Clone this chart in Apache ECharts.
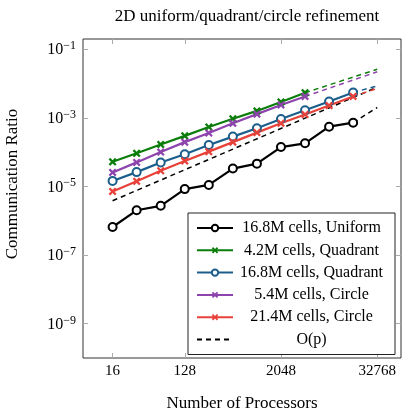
<!DOCTYPE html>
<html>
<head>
<meta charset="utf-8">
<script src="https://cdn.jsdelivr.net/npm/echarts@6/dist/echarts.min.js"></script>
<style>
html,body{margin:0;padding:0;background:#fff}
#chart{width:402px;height:417px}
</style>
</head>
<body>
<div id="chart"></div>
<script>
// processor counts (x) and communication ratios (y)
var procs = [16, 32, 64, 128, 256, 512, 1024, 2048, 4096, 8192, 16384];
var procsShort = [16, 32, 64, 128, 256, 512, 1024, 2048, 4096];

var uniform168 = [6.5e-7, 2.0e-6, 2.7e-6, 8.3e-6, 1.1e-5, 3.3e-5, 4.6e-5, 1.4e-4, 1.8e-4, 5.5e-4, 7.2e-4];
var quad42 = [5.2e-5, 9.2e-5, 1.67e-4, 2.97e-4, 5.4e-4, 9.4e-4, 1.59e-3, 2.9e-3, 5.4e-3];
var quad168 = [1.44e-5, 2.6e-5, 4.95e-5, 8.6e-5, 1.6e-4, 2.83e-4, 4.95e-4, 9.2e-4, 1.67e-3, 3.0e-3, 5.5e-3];
var circ54 = [2.55e-5, 5.0e-5, 1.0e-4, 1.95e-4, 3.6e-4, 6.9e-4, 1.28e-3, 2.37e-3, 4.2e-3];
var circ214 = [7.1e-6, 1.4e-5, 2.85e-5, 5.5e-5, 1.03e-4, 1.95e-4, 3.7e-4, 6.9e-4, 1.25e-3, 2.28e-3, 4.2e-3];

// dashed extrapolations up to 32768
var extLong = [4096, 32768];
var extShort = [16384, 32768];
var uniform168Ext = [7.2e-4, 2.0e-3];
var quad42Ext = [5.4e-3, 2.6e-2];
var quad168Ext = [5.5e-3, 8.5e-3];
var circ54Ext = [4.2e-3, 2.2e-2];
var circ214Ext = [4.2e-3, 7.2e-3];

// O(p) reference
var opProcs = [16, 32768];
var opValues = [3.8e-6, 7.8e-3];

var names = ['16.8M cells, Uniform', '4.2M cells, Quadrant', '16.8M cells, Quadrant',
             '5.4M cells, Circle', '21.4M cells, Circle', 'O(p)'];
var xTicks = [16, 128, 2048, 32768];
var yTicks = [1e-9, 1e-7, 1e-5, 1e-3, 1e-1];

var FONT = '"Liberation Serif", "DejaVu Serif", serif';
var cBlack = '#000000', cGreen = '#0b7d0b', cBlue = '#1c5e8b', cPurple = '#8e44ad', cRed = '#e8413a';
var xMark = 'path://M2,0L5,3L8,0L10,2L7,5L10,8L8,10L5,7L2,10L0,8L3,5L0,2Z';

function pts(xs, ys) {
    return xs.map(function (p, i) { return [Math.log2(p), Math.log10(ys[i])]; });
}

function mainSeries(name, xs, ys, color, marker) {
    var circle = marker === 'circle';
    return {
        name: name, type: 'line', data: pts(xs, ys),
        symbol: circle ? 'circle' : xMark,
        symbolSize: 8,
        showSymbol: true,
        lineStyle: { color: color, width: 2.2 },
        itemStyle: circle ? { color: '#fff', borderColor: color, borderWidth: 2 }
                          : { color: color, borderWidth: 0 },
        z: 3
    };
}

function dashSeries(name, xs, ys, color, w) {
    return {
        name: name, type: 'line', data: pts(xs, ys),
        symbol: 'none',
        lineStyle: { color: color, width: w, type: [5, 4] },
        itemStyle: { color: color },
        z: 2
    };
}

var chart = echarts.init(document.getElementById('chart'));

var tickStyle = { show: true, inside: true, length: 5, lineStyle: { color: '#aaa', width: 1 } };
var xTickVals = xTicks.map(Math.log2);
var yTickVals = yTicks.map(function (v) { return Math.round(Math.log10(v)); });

var option = {
    animation: false,
    backgroundColor: '#fff',
    title: {
        text: '2D uniform/quadrant/circle refinement',
        left: 242, top: 3, textAlign: 'center',
        textStyle: { fontFamily: FONT, fontSize: 17, fontWeight: 'normal', color: '#000' }
    },
    grid: {
        left: 83, right: 1, top: 39, bottom: 55,
        show: true, borderColor: '#333', borderWidth: 1, backgroundColor: 'transparent'
    },
    xAxis: [{
        type: 'value', min: 2.77, max: 15.99,
        name: 'Number of Processors', nameLocation: 'middle', nameGap: 37,
        nameTextStyle: { fontFamily: FONT, fontSize: 17, color: '#000' },
        axisLine: { show: false },
        splitLine: { show: false },
        axisTick: Object.assign({ customValues: xTickVals }, tickStyle),
        axisLabel: {
            customValues: xTickVals,
            margin: 6, fontFamily: FONT, fontSize: 15, color: '#000',
            formatter: function (v) { return String(Math.round(Math.pow(2, v))); }
        }
    }, {
        type: 'value', min: 2.77, max: 15.99, position: 'top',
        axisLine: { show: false }, splitLine: { show: false },
        axisTick: Object.assign({ customValues: xTickVals }, tickStyle),
        axisLabel: { show: false }
    }],
    yAxis: [{
        type: 'value', min: -10.01, max: -0.7,
        axisLine: { show: false },
        splitLine: { show: false },
        axisTick: Object.assign({ customValues: yTickVals }, tickStyle),
        axisLabel: {
            customValues: yTickVals,
            margin: 7, color: '#000',
            formatter: function (v) { return '{b|10}{e|\u2212' + Math.abs(Math.round(v)) + '}'; },
            rich: {
                b: { fontFamily: FONT, fontSize: 16, lineHeight: 18, verticalAlign: 'bottom', color: '#000' },
                e: { fontFamily: FONT, fontSize: 12, lineHeight: 12, verticalAlign: 'top', color: '#000' }
            }
        }
    }, {
        type: 'value', min: -10.01, max: -0.7, position: 'right',
        axisLine: { show: false }, splitLine: { show: false },
        axisTick: Object.assign({ customValues: yTickVals }, tickStyle),
        axisLabel: { show: false }
    }],
    graphic: [{
        type: 'text', x: 13, y: 184, rotation: Math.PI / 2,
        style: { text: 'Communication Ratio', font: '17px ' + FONT, fill: '#000', align: 'center', verticalAlign: 'middle' }
    }],
    legend: {
        data: names.slice(0, 5).concat([{ name: names[5], itemStyle: { color: 'rgba(0,0,0,0)', borderWidth: 0, opacity: 0 } }]),
        orient: 'vertical',
        left: 188, top: 213,
        padding: [7, 10, 7, 8],
        itemWidth: 36, itemHeight: 8, itemGap: 6.3,
        backgroundColor: '#fff',
        borderColor: '#222', borderWidth: 1,
        formatter: function (n) { return '{c|' + n + '}'; },
        textStyle: {
            fontFamily: FONT, fontSize: 16, color: '#000',
            rich: { c: { width: 147, align: 'center', fontFamily: FONT, fontSize: 16, lineHeight: 16, color: '#000' } }
        }
    },
    series: [
        mainSeries(names[0], procs, uniform168, cBlack, 'circle'),
        mainSeries(names[1], procsShort, quad42, cGreen, 'x'),
        mainSeries(names[2], procs, quad168, cBlue, 'circle'),
        mainSeries(names[3], procsShort, circ54, cPurple, 'x'),
        mainSeries(names[4], procs, circ214, cRed, 'x'),
        dashSeries(names[5], opProcs, opValues, cBlack, 1.5),
        dashSeries('uniformExt', extShort, uniform168Ext, cBlack, 1.5),
        dashSeries('quad42Ext', extLong, quad42Ext, cGreen, 1.5),
        dashSeries('quad168Ext', extShort, quad168Ext, cBlue, 1.5),
        dashSeries('circ54Ext', extLong, circ54Ext, cPurple, 1.5),
        dashSeries('circ214Ext', extShort, circ214Ext, cRed, 1.5)
    ]
};

chart.setOption(option);
</script>
</body>
</html>
